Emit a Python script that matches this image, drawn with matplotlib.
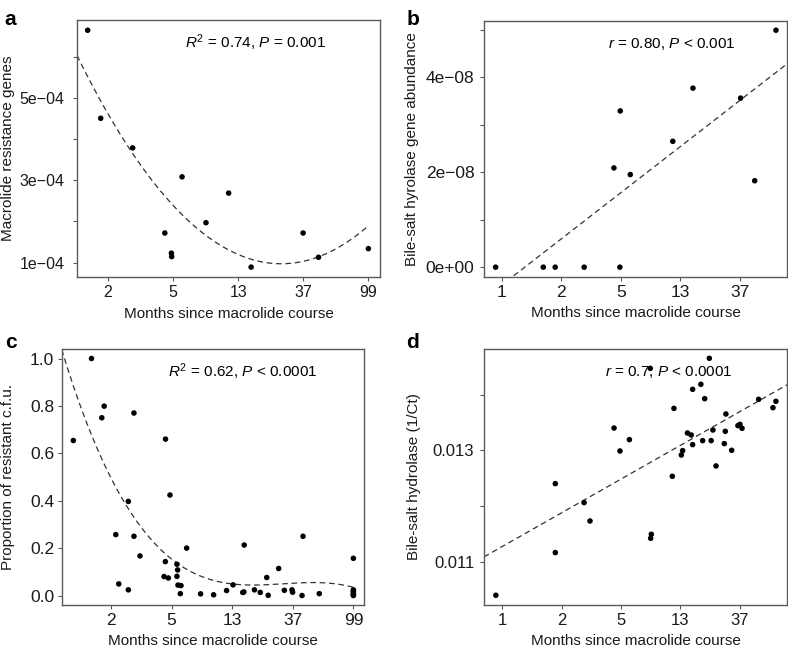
import numpy as np
import matplotlib
matplotlib.use('Agg')
import matplotlib.pyplot as plt

plt.rcParams['font.family'] = ['Liberation Sans', 'DejaVu Sans']
plt.rcParams['mathtext.fontset'] = 'custom'
plt.rcParams['mathtext.rm'] = 'Liberation Sans'
plt.rcParams['mathtext.it'] = 'Liberation Sans:italic'

# x axis ticks used in all panels (months since macrolide course)
tick_months = [1, 2, 5, 13, 37, 99]
tick_labels = ['1', '2', '5', '13', '37', '99']

# panel a: macrolide resistance genes
a_months = [1.61, 1.85, 2.83, 5.7, 11.3, 8.1, 4.45, 4.88, 4.9, 16.0, 36.9, 46.6, 99]
a_genes = [6.65e-4, 4.51e-4, 3.79e-4, 3.085e-4, 2.69e-4, 1.97e-4, 1.72e-4,
           1.23e-4, 1.146e-4, 0.89e-4, 1.72e-4, 1.13e-4, 1.34e-4]

# panel b: bile-salt hydrolase gene abundance
b_months = [0.93, 1.62, 1.86, 2.84, 4.92, 4.49, 4.95, 5.81, 11.5, 16.2, 37.4, 47.2, 67.1]
b_bsh = [0, 0, 0, 0, 0, 2.09e-8, 3.29e-8, 1.95e-8, 2.65e-8, 3.77e-8,
         3.56e-8, 1.82e-8, 4.99e-8]

# panel c: proportion of resistant c.f.u.
c_months = [1.3, 1.6, 1.85, 1.8, 2.83, 4.56, 4.88, 2.6, 2.15, 2.83, 3.1, 2.25,
            2.6, 6.34, 4.55, 5.44, 5.5, 4.46, 4.76, 5.44, 5.53, 5.8, 5.74, 7.9,
            9.7, 11.9, 13.2, 16.0, 15.6, 15.9, 19.1, 21.1, 23.6, 24.2, 29.0,
            32.0, 36.5, 36.9, 43.0, 43.7, 56.9, 99, 99, 99, 99, 99, 99, 99]
c_prop = [0.654, 1.0, 0.799, 0.75, 0.77, 0.66, 0.424, 0.397, 0.257, 0.25,
          0.167, 0.049, 0.024, 0.2, 0.143, 0.132, 0.108, 0.08, 0.074, 0.081,
          0.044, 0.042, 0.008, 0.007, 0.003, 0.021, 0.045, 0.213, 0.013,
          0.015, 0.024, 0.013, 0.076, 0.001, 0.114, 0.022, 0.024, 0.014,
          0.0, 0.25, 0.008, 0.157, 0.024, 0.019, 0.014, 0.007, 0.003, 0.0]

# panel d: bile-salt hydrolase (1/Ct)
d_months = [0.93, 1.86, 1.86, 2.83, 3.1, 4.49, 4.92, 5.72, 8.0, 8.14, 8.05,
            11.4, 11.7, 13.2, 13.5, 14.7, 15.7, 16.1, 16.1, 18.6, 19.9, 19.2,
            21.6, 22.3, 23.0, 24.3, 28.1, 28.6, 28.9, 32.0, 35.7, 37, 38.3,
            50.4, 63.9, 67.1]
d_ct = [0.010395, 0.012401, 0.011162, 0.01206, 0.01173, 0.0134, 0.012988,
        0.013192, 0.014473, 0.011491, 0.011419, 0.012533, 0.013754, 0.012916,
        0.012994, 0.013311, 0.013275, 0.013102, 0.014096, 0.014186, 0.013928,
        0.013174, 0.014653, 0.013174, 0.013365, 0.012719, 0.01312, 0.013341,
        0.013653, 0.013, 0.013443, 0.013467, 0.013395, 0.013916, 0.013766,
        0.01388]


def to_u(x):
    # log-like axis: tick months sit at equal steps, log-linear in between
    lk = np.log(tick_months)
    lx = np.log(np.clip(np.asarray(x, float), 1e-6, None))
    u = np.interp(lx, lk, np.arange(6))
    u = np.where(lx < lk[0], (lx - lk[0]) / (lk[1] - lk[0]), u)
    u = np.where(lx > lk[-1], 5 + (lx - lk[-1]) / (lk[-1] - lk[-2]), u)
    return u


def from_u(u):
    lk = np.log(tick_months)
    u = np.asarray(u, float)
    lx = np.interp(u, np.arange(6), lk)
    lx = np.where(u < 0, lk[0] + u * (lk[1] - lk[0]), lx)
    lx = np.where(u > 5, lk[-1] + (u - 5) * (lk[-1] - lk[-2]), lx)
    return np.exp(lx)


frame = '#5a5a5a'


def style(ax, xlim, ylim, yticks, ylabels, ylabel, ylab_x, tsize, ypad):
    ax.set_xscale('function', functions=(to_u, from_u))
    shown = [(m, l) for m, l in zip(tick_months, tick_labels) if xlim[0] <= m <= xlim[1]]
    ax.set_xticks([m for m, _ in shown])
    ax.set_xticklabels([l for _, l in shown])
    ax.xaxis.set_minor_locator(matplotlib.ticker.NullLocator())
    ax.set_yticks(yticks)
    ax.set_yticklabels(ylabels)
    ax.set_xlim(*xlim)
    ax.set_ylim(*ylim)
    for s in ax.spines.values():
        s.set_color(frame)
        s.set_linewidth(1.0)
    ax.tick_params(axis='both', direction='out', length=3, width=0.8,
                   color=frame, labelsize=tsize, labelcolor='#1a1a1a')
    ax.tick_params(axis='x', pad=3)
    ax.tick_params(axis='y', pad=ypad)
    ax.set_xlabel('Months since macrolide course', fontsize=11, color='#1a1a1a')
    ax.xaxis.set_label_coords(0.5, -0.115)
    ax.set_ylabel(ylabel, fontsize=11, color='#1a1a1a')
    ax.yaxis.set_label_coords(ylab_x, 0.5)


fig = plt.figure(figsize=(7.88, 6.53), dpi=100)
ax_a = fig.add_axes([0.0977, 0.5758, 0.3845, 0.3936])
ax_b = fig.add_axes([0.6142, 0.5763, 0.3845, 0.3920])
ax_c = fig.add_axes([0.0783, 0.0735, 0.3836, 0.3920])
ax_d = fig.add_axes([0.6142, 0.0735, 0.3849, 0.3920])

dash = dict(color='#333333', lw=0.9, ls=(0, (4.5, 3)))
dot = dict(s=16, color='black', zorder=3, edgecolors='none')

# a
xa = (1.437, 118)
ax_a.scatter(a_months, a_genes, **dot)
coef = np.polyfit(to_u(a_months), a_genes, 2)
uu = np.linspace(to_u(xa[0]), to_u(99), 200)
ax_a.plot(from_u(uu), np.polyval(coef, uu), **dash)
style(ax_a, xa, (0.65e-4, 6.9e-4), [1e-4, 2e-4, 3e-4, 4e-4, 5e-4, 6e-4],
      ['1e\u221204', '', '3e\u221204', '', '5e\u221204', ''],
      'Macrolide resistance genes', -0.205, 11.5, 6)
ax_a.text(0.59, 0.91, r'$R^2$ = 0.74, $P$ = 0.001', transform=ax_a.transAxes,
          ha='center', va='center', fontsize=11)

# b
xb = (0.812, 80.5)
ax_b.scatter(b_months, b_bsh, **dot)
coef = np.polyfit(to_u(b_months), b_bsh, 1)
uu = np.linspace(to_u(xb[0]), to_u(xb[1]), 50)
ax_b.plot(from_u(uu), np.polyval(coef, uu), **dash)
style(ax_b, xb, (-0.2e-8, 5.19e-8), [0, 1e-8, 2e-8, 3e-8, 4e-8, 5e-8],
      ['0e+00', '', '2e\u221208', '', '4e\u221208', ''],
      'Bile-salt hyrolase gene abundance', -0.215, 12.5, 4)
ax_b.text(0.62, 0.91, r'$r$ = 0.80, $P$ < 0.001', transform=ax_b.transAxes,
          ha='center', va='center', fontsize=11)

# c
xc = (1.138, 117.6)
ax_c.scatter(c_months, c_prop, **dot)
coef = np.polyfit(to_u(c_months), c_prop, 3)
uu = np.linspace(to_u(xc[0]), to_u(99), 200)
ax_c.plot(from_u(uu), np.polyval(coef, uu), **dash)
style(ax_c, xc, (-0.04, 1.04), [0, 0.2, 0.4, 0.6, 0.8, 1.0],
      ['0.0', '0.2', '0.4', '0.6', '0.8', '1.0'],
      'Proportion of resistant c.f.u.', -0.154, 12.5, 2.5)
ax_c.text(0.60, 0.91, r'$R^2$ = 0.62, $P$ < 0.0001', transform=ax_c.transAxes,
          ha='center', va='center', fontsize=11)

# d
xd = (0.81, 81)
ax_d.scatter(d_months, d_ct, **dot)
coef = np.polyfit(to_u(d_months), d_ct, 1)
uu = np.linspace(to_u(xd[0]), to_u(xd[1]), 50)
ax_d.plot(from_u(uu), np.polyval(coef, uu), **dash)
style(ax_d, xd, (0.01022, 0.01482), [0.011, 0.012, 0.013, 0.014],
      ['0.011', '', '0.013', ''],
      'Bile-salt hydrolase (1/Ct)', -0.208, 12, 4)
ax_d.text(0.61, 0.91, r'$r$ = 0.7, $P$ < 0.0001', transform=ax_d.transAxes,
          ha='center', va='center', fontsize=11)

for lab, x, y in [('a', 0.006, 0.985), ('b', 0.516, 0.985),
                  ('c', 0.006, 0.49), ('d', 0.516, 0.49)]:
    fig.text(x, y, lab, fontsize=15, fontweight='bold', ha='left', va='top')

fig.savefig('out.png', dpi=100)
